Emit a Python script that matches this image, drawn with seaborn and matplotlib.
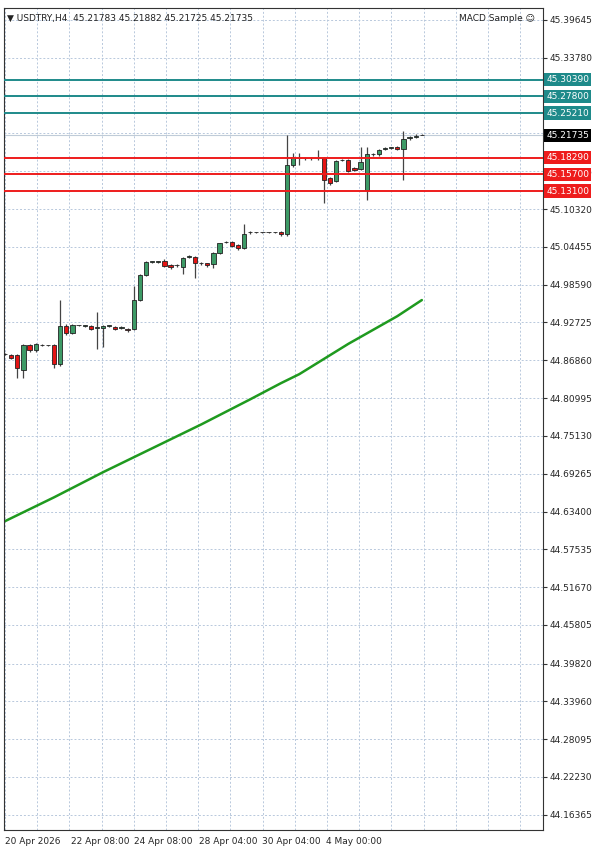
import numpy as np
import pandas as pd
import seaborn as sns
import matplotlib.pyplot as plt

# H4 bars of USDTRY
opens = [44.878, 44.877, 44.877, 44.853, 44.892, 44.884, 44.892, 44.892, 44.892, 44.863,
         44.922, 44.911, 44.923, 44.922, 44.922, 44.919, 44.919, 44.922, 44.920, 44.919,
         44.917, 44.917, 44.962, 45.001, 45.021, 45.021, 45.023, 45.016, 45.016, 45.013,
         45.029, 45.029, 45.019, 45.019, 45.018, 45.035, 45.052, 45.052, 45.047, 45.043,
         45.067, 45.067, 45.067, 45.067, 45.067, 45.067, 45.064, 45.171, 45.182, 45.182,
         45.182, 45.182, 45.182, 45.151, 45.147, 45.179, 45.179, 45.167, 45.165, 45.133,
         45.188, 45.188, 45.196, 45.198, 45.199, 45.196, 45.213, 45.215, 45.21783]
highs = [44.880, 44.879, 44.879, 44.894, 44.894, 44.896, 44.894, 44.893, 44.894, 44.962,
         44.925, 44.925, 44.924, 44.924, 44.923, 44.943, 44.923, 44.923, 44.922, 44.921,
         44.919, 44.984, 45.002, 45.023, 45.023, 45.022, 45.025, 45.018, 45.018, 45.029,
         45.032, 45.031, 45.021, 45.020, 45.036, 45.051, 45.054, 45.054, 45.049, 45.080,
         45.069, 45.068, 45.068, 45.068, 45.068, 45.069, 45.218, 45.190, 45.190, 45.184,
         45.184, 45.195, 45.184, 45.153, 45.180, 45.181, 45.181, 45.169, 45.199, 45.199,
         45.190, 45.196, 45.199, 45.199, 45.201, 45.224, 45.217, 45.219, 45.21882]
lows = [44.876, 44.870, 44.841, 44.841, 44.882, 44.882, 44.890, 44.891, 44.857, 44.860,
        44.908, 44.909, 44.921, 44.920, 44.915, 44.886, 44.889, 44.920, 44.915, 44.917,
        44.913, 44.915, 44.960, 44.999, 45.019, 45.020, 45.013, 45.010, 45.014, 45.002,
        45.027, 44.996, 45.017, 45.013, 45.012, 45.033, 45.050, 45.044, 45.040, 45.041,
        45.065, 45.066, 45.066, 45.066, 45.066, 45.062, 45.062, 45.168, 45.171, 45.180,
        45.180, 45.180, 45.113, 45.140, 45.145, 45.177, 45.160, 45.162, 45.163, 45.117,
        45.186, 45.186, 45.195, 45.196, 45.194, 45.148, 45.211, 45.214, 45.21725]
closes = [44.878, 44.872, 44.857, 44.892, 44.884, 44.894, 44.892, 44.892, 44.863, 44.922,
          44.911, 44.923, 44.923, 44.922, 44.917, 44.919, 44.922, 44.922, 44.917, 44.919,
          44.915, 44.962, 45.001, 45.021, 45.021, 45.021, 45.015, 45.013, 45.016, 45.027,
          45.029, 45.019, 45.019, 45.016, 45.035, 45.050, 45.052, 45.046, 45.043, 45.064,
          45.067, 45.067, 45.067, 45.067, 45.067, 45.064, 45.171, 45.184, 45.182, 45.182,
          45.182, 45.183, 45.148, 45.144, 45.178, 45.179, 45.162, 45.164, 45.176, 45.188,
          45.188, 45.195, 45.198, 45.198, 45.196, 45.212, 45.215, 45.217, 45.21735]

# moving average, sampled at bar indices
ma_bars = [0, 8, 16, 24, 32, 40, 45, 48, 56, 64, 68]
ma_vals = [44.619, 44.656, 44.695, 44.732, 44.769, 44.808, 44.833, 44.847, 44.894, 44.937, 44.962]

teal_levels = [45.30390, 45.27800, 45.25210]
red_levels = [45.18290, 45.15700, 45.13100]
last_price = 45.21735

yticks = [45.39645, 45.33780, 45.16185, 45.10320, 45.04455, 44.98590, 44.92725, 44.86860,
          44.80995, 44.75130, 44.69265, 44.63400, 44.57535, 44.51670, 44.45805, 44.39820,
          44.33960, 44.28095, 44.22230, 44.16365]
date_bars = [0, 10.7, 21.1, 31.6, 42.0, 52.4]
date_labels = ['20 Apr 2026', '22 Apr 08:00', '24 Apr 08:00', '28 Apr 04:00', '30 Apr 04:00', '4 May 00:00']

sns.set_style("white")
plt.rcParams['font.family'] = ['DejaVu Sans']
fs = 6.5

fig = plt.figure(figsize=(6, 8.48), dpi=100)
ax = fig.add_axes([4/600, 18/848, 539/600, 822/848])

px = 6.13  # pixels per bar
ax.set_xlim(-1/px, 538/px)
ax.set_ylim(44.140, 45.415)

# grid
for gx in np.arange(0, 540, 32.2) / px:
    ax.axvline(gx, color='#b8c8dc', lw=0.7, ls=(0, (2, 2)), zorder=0)
for t in [45.39645, 45.33780, 45.27915, 45.22050] + yticks[2:]:
    ax.axhline(t, color='#b8c8dc', lw=0.7, ls=(0, (2, 2)), zorder=0)

df = pd.DataFrame({'o': opens, 'h': highs, 'l': lows, 'c': closes})
df['i'] = np.arange(len(df))
ax.vlines(df['i'], df['l'], df['h'], color='#444444', lw=0.9, zorder=2)
up = df['c'] >= df['o']
bottom = np.minimum(df['o'], df['c'])
height = np.maximum(np.abs(df['c'] - df['o']), 0.0008)
colors = np.where(up, '#3d9a66', '#e41414')
ax.bar(df['i'], height, bottom=bottom, width=0.7, color=colors, edgecolor='#222222',
       linewidth=0.6, zorder=3)

ma = pd.DataFrame({'bar': ma_bars, 'ma': ma_vals})
sns.lineplot(data=ma, x='bar', y='ma', ax=ax, color='#1f9a1f', lw=1.8, zorder=2)

for v in teal_levels:
    ax.axhline(v, color='#1e8a8a', lw=1.4, zorder=4)
for v in red_levels:
    ax.axhline(v, color='#ee1c1c', lw=1.4, zorder=4)
ax.axhline(last_price, color='#c0ccd8', lw=0.8, zorder=1)

ax.yaxis.tick_right()
ax.set_yticks(yticks)
ax.set_yticklabels([f'{t:.5f}' for t in yticks], fontsize=fs)
ax.set_xticks(date_bars)
ax.set_xticklabels(date_labels, fontsize=fs, ha='left')
ax.tick_params(axis='both', length=3, color='#333333', pad=2)
ax.set_xlabel('')
ax.set_ylabel('')
for s in ax.spines.values():
    s.set_color('#333333')
    s.set_linewidth(0.8)

def price_box(v, fc, tc='white'):
    ax.text(1.006, v, f'{v:.5f}', transform=ax.get_yaxis_transform(), va='center', ha='left',
            fontsize=fs, color=tc, bbox=dict(boxstyle='square,pad=0.25', fc=fc, ec='none'),
            zorder=6, clip_on=False)

for v in teal_levels:
    price_box(v, '#1e8a8a')
for v in red_levels:
    price_box(v, '#ee1c1c')
price_box(last_price, 'black')

ax.text(0.005, 0.993, '▼ USDTRY,H4  45.21783 45.21882 45.21725 45.21735', transform=ax.transAxes,
        va='top', ha='left', fontsize=fs, color='#222222')
ax.text(0.985, 0.993, 'MACD Sample ☺', transform=ax.transAxes, va='top', ha='right',
        fontsize=fs, color='#222222')

plt.savefig('out.png', dpi=100)
